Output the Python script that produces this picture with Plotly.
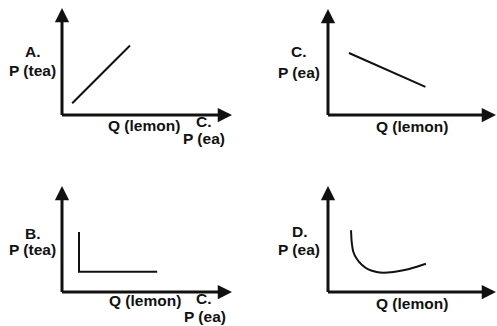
import plotly.graph_objects as go

W, H = 497, 326

# axis ends of every panel (tail and tip of each arrow)
q_axis = [-0.09, 10]
p_axis = [-0.14, 10]

# A: upward sloping line
a_q = [0.6, 4.0]
a_p = [1.1, 6.5]

# C: downward sloping line
c_q = [1.25, 5.8]
c_p = [5.85, 2.65]

# B: L-shaped curve
b_q = [1.0, 1.0, 5.6]
b_p = [5.65, 1.9, 1.9]

# D: U-shaped curve
d_q = [1.37, 1.41, 1.51, 1.71, 2.01, 2.40, 2.90, 3.29, 3.89, 4.48, 5.08, 5.83]
d_p = [5.82, 4.72, 3.77, 3.14, 2.58, 2.14, 1.89, 1.82, 1.89, 2.05, 2.29, 2.67]

panels = [
    # axis suffix, origin x, origin y, q tip x, p tip y, q, p, shape
    ("", 62, 115, 232, 8, a_q, a_p, "linear"),
    ("2", 328, 115, 496, 9, c_q, c_p, "linear"),
    ("3", 62, 292, 232, 186, b_q, b_p, "linear"),
    ("4", 328, 292, 496, 186, d_q, d_p, "spline"),
]

labels = [
    # text, x px, y px
    ("A.", 33, 52), ("P (tea)", 32.5, 71),
    ("Q (lemon)", 144, 125), ("C.", 204, 121), ("P (ea)", 204, 138),
    ("C.", 299, 52), ("P (ea)", 299, 72),
    ("Q (lemon)", 412, 127),
    ("B.", 33, 233.5), ("P (tea)", 32.5, 249),
    ("Q (lemon)", 145, 300.5), ("C.", 203.5, 298), ("P (ea)", 204.5, 316),
    ("D.", 299.5, 231.5), ("P (ea)", 299, 249),
    ("Q (lemon)", 412, 303),
]

fig = go.Figure()
layout = {}
arrow_style = dict(text="", showarrow=True, arrowhead=2, arrowsize=0.95,
                   arrowwidth=3, arrowcolor="#111", standoff=0, startstandoff=0)
for suf, ox, oy, tx, ty, q, p, shape in panels:
    xa, ya = "x" + suf, "y" + suf
    fig.add_trace(go.Scatter(
        x=q, y=p, xaxis=xa, yaxis=ya, mode="lines",
        line=dict(color="#111", width=2, shape=shape, smoothing=0.6),
        cliponaxis=False, showlegend=False))
    layout["xaxis" + suf] = dict(domain=[ox / W, tx / W], range=[0, 10],
                                 visible=False, anchor=ya)
    layout["yaxis" + suf] = dict(domain=[1 - oy / H, 1 - ty / H], range=[0, 10],
                                 visible=False, anchor=xa)
    # Q axis and P axis as arrows
    fig.add_annotation(x=q_axis[1], y=0, ax=q_axis[0], ay=0, xref=xa, yref=ya,
                       axref=xa, ayref=ya, **arrow_style)
    fig.add_annotation(x=0, y=p_axis[1], ax=0, ay=p_axis[0], xref=xa, yref=ya,
                       axref=xa, ayref=ya, **arrow_style)

fig.update_layout(**layout)

for text, x, y in labels:
    fig.add_annotation(text=text, x=x / W, y=1 - y / H, xref="paper", yref="paper",
                       showarrow=False, xanchor="center", yanchor="middle",
                       font=dict(family="Arial, Liberation Sans", size=15.5,
                                 color="#111", weight="bold"))

fig.update_layout(width=W, height=H, margin=dict(l=0, r=0, t=0, b=0),
                  paper_bgcolor="white", plot_bgcolor="white")

# drop the page's default body margin so the figure sits at the corner
fig.write_html("out.html", config={"displayModeBar": False},
               post_script="document.body.style.margin='0';")
